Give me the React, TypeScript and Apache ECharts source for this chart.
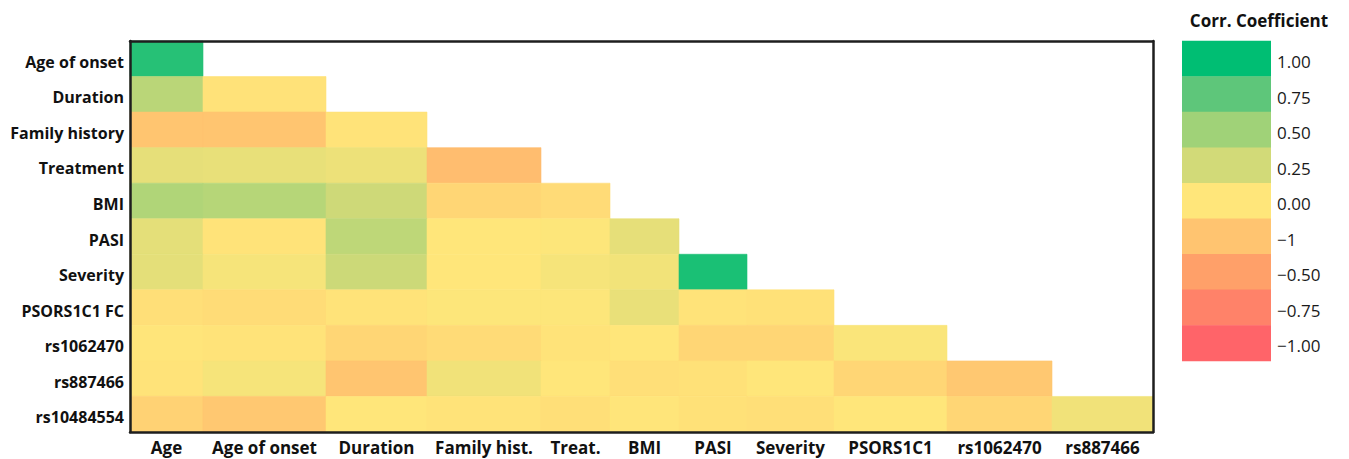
import React, { useEffect, useRef } from "react";
import * as echarts from "echarts";

// ---- Data ----
const COLUMNS = [
  "Age",
  "Age of onset",
  "Duration",
  "Family hist.",
  "Treat.",
  "BMI",
  "PASI",
  "Severity",
  "PSORS1C1",
  "rs1062470",
  "rs887466",
];

const ROWS = [
  "Age of onset",
  "Duration",
  "Family history",
  "Treatment",
  "BMI",
  "PASI",
  "Severity",
  "PSORS1C1 FC",
  "rs1062470",
  "rs887466",
  "rs10484554",
];

// lower-triangular correlation coefficients, row i has i+1 values
const R_AGE_OF_ONSET = [0.9];
const R_DURATION = [0.37, -0.03];
const R_FAMILY_HISTORY = [-0.24, -0.24, -0.02];
const R_TREATMENT = [0.14, 0.13, 0.1, -0.3];
const R_BMI = [0.42, 0.39, 0.27, -0.12, -0.08];
const R_PASI = [0.15, -0.02, 0.35, 0.0, 0.01, 0.14];
const R_SEVERITY = [0.15, 0.05, 0.28, 0.0, 0.05, 0.07, 0.93];
const R_PSORS1C1 = [-0.05, -0.07, -0.02, 0.01, 0.01, 0.12, -0.02, -0.04];
const R_RS1062470 = [-0.01, -0.02, -0.12, -0.08, -0.02, 0.0, -0.12, -0.12, 0.03];
const R_RS887466 = [-0.02, 0.05, -0.24, 0.08, 0.0, -0.05, -0.04, 0.0, -0.12, -0.22];
const R_RS10484554 = [-0.15, -0.22, 0.0, -0.02, -0.05, -0.01, -0.04, -0.05, 0.0, -0.12, 0.08];

const MATRIX = [
  R_AGE_OF_ONSET,
  R_DURATION,
  R_FAMILY_HISTORY,
  R_TREATMENT,
  R_BMI,
  R_PASI,
  R_SEVERITY,
  R_PSORS1C1,
  R_RS1062470,
  R_RS887466,
  R_RS10484554,
];

const LEGEND_TITLE = "Corr. Coefficient";
const LEGEND_LABELS = ["1.00", "0.75", "0.50", "0.25", "0.00", "\u22121", "\u22120.50", "\u22120.75", "\u22121.00"];

// ---- Layout / style ----
const COL_WIDTHS = [73, 123, 101, 114, 69, 69, 68, 87, 113, 105, 101];
const SCALE_COLORS = [
  "#FF6469",
  "#FF8269",
  "#FFA069",
  "#FFC470",
  "#FFE67A",
  "#D2DA78",
  "#A0D278",
  "#5EC67A",
  "#00BE73",
];
const LEGEND_COLORS = [...SCALE_COLORS].reverse();
const FONT = "'Open Sans', 'Liberation Sans', sans-serif";

export default function App() {
  const ref = useRef<HTMLDivElement>(null);

  useEffect(() => {
    if (!ref.current) return;
    const chart = echarts.init(ref.current, undefined, { renderer: "svg" });

    const edges: number[] = [0];
    COL_WIDTHS.forEach((w, i) => edges.push(edges[i] + w));
    const total = edges[edges.length - 1];
    const centers = COL_WIDTHS.map((w, i) => edges[i] + w / 2);

    const data: number[][] = [];
    MATRIX.forEach((row, r) => row.forEach((v, c) => data.push([c, r, v])));

    const legendX = 1182;
    const legendY = 40.7;
    const legendW = 89;
    const legendH = 35.56;

    const legendChildren: any[] = [];
    LEGEND_COLORS.forEach((col, i) => {
      legendChildren.push({
        type: "rect",
        shape: { x: legendX, y: legendY + i * legendH, width: legendW, height: legendH + 0.5 },
        style: { fill: col },
      });
      legendChildren.push({
        type: "text",
        style: {
          text: LEGEND_LABELS[i],
          x: legendX + legendW + 6,
          y: legendY + i * legendH + legendH / 2 + 3,
          verticalAlign: "middle",
          align: "left",
          fill: "#1a1a1a",
          font: `17px ${FONT}`,
        },
      });
    });
    legendChildren.push({
      type: "text",
      style: {
        text: LEGEND_TITLE,
        x: 1259,
        y: 20,
        align: "center",
        verticalAlign: "middle",
        fill: "#111",
        font: `bold 17px ${FONT}`,
      },
    });

    const axisLine = { show: true, lineStyle: { color: "#1e1e1e", width: 2.5 } };

    chart.setOption({
      animation: false,
      backgroundColor: "#fff",
      textStyle: { fontFamily: FONT },
      grid: { left: 130, right: 196, top: 41, bottom: 27, containLabel: false },
      xAxis: [
        {
          type: "value",
          min: 0,
          max: total,
          position: "bottom",
          z: 10,
          axisLine: { ...axisLine, onZero: false },
          axisTick: { show: false },
          splitLine: { show: false },
          axisLabel: {
            customValues: centers,
            formatter: (v: number) => {
              const i = centers.findIndex((c) => Math.abs(c - v) < 0.01);
              return i >= 0 ? COLUMNS[i] : "";
            },
            color: "#111",
            fontWeight: "bold",
            fontSize: 17,
            fontFamily: FONT,
            margin: 7,
          },
        },
        {
          type: "value",
          min: 0,
          max: total,
          position: "top",
          z: 10,
          axisLine: { ...axisLine, onZero: false },
          axisTick: { show: false },
          splitLine: { show: false },
          axisLabel: { show: false },
        },
      ],
      yAxis: [
        {
          type: "category",
          data: ROWS,
          inverse: true,
          position: "left",
          z: 10,
          axisLine: { ...axisLine, onZero: false },
          axisTick: { show: false },
          splitLine: { show: false },
          axisLabel: {
            margin: 6,
            formatter: (v: string) => `{r|${v}}`,
            rich: {
              r: {
                color: "#111",
                fontWeight: "bold",
                fontSize: 16,
                fontFamily: FONT,
                padding: [6, 0, 0, 0],
              },
            },
          },
        },
        {
          type: "category",
          data: ROWS,
          inverse: true,
          position: "right",
          z: 10,
          axisLine: { ...axisLine, onZero: false },
          axisTick: { show: false },
          splitLine: { show: false },
          axisLabel: { show: false },
        },
      ],
      visualMap: {
        type: "continuous",
        show: false,
        min: -1,
        max: 1,
        dimension: 2,
        seriesIndex: 0,
        inRange: { color: SCALE_COLORS },
      },
      series: [
        {
          type: "custom",
          xAxisIndex: 0,
          yAxisIndex: 0,
          data,
          encode: { x: 0, y: 1 },
          renderItem: (params: any, api: any) => {
            const c = api.value(0);
            const r = api.value(1);
            const p0 = api.coord([edges[c], r]);
            const p1 = api.coord([edges[c + 1], r]);
            const h = api.size([0, 1])[1];
            const color = api.visual("color");
            return {
              type: "rect",
              shape: { x: p0[0], y: p0[1] - h / 2, width: p1[0] - p0[0], height: h },
              style: { fill: color, stroke: color, lineWidth: 0.6 },
            };
          },
        },
      ],
      graphic: [{ type: "group", children: legendChildren }],
    });

    return () => chart.dispose();
  }, []);

  return (
    <div
      ref={ref}
      style={{ position: "absolute", left: 0, top: 0, width: 1349, height: 459 }}
    />
  );
}
